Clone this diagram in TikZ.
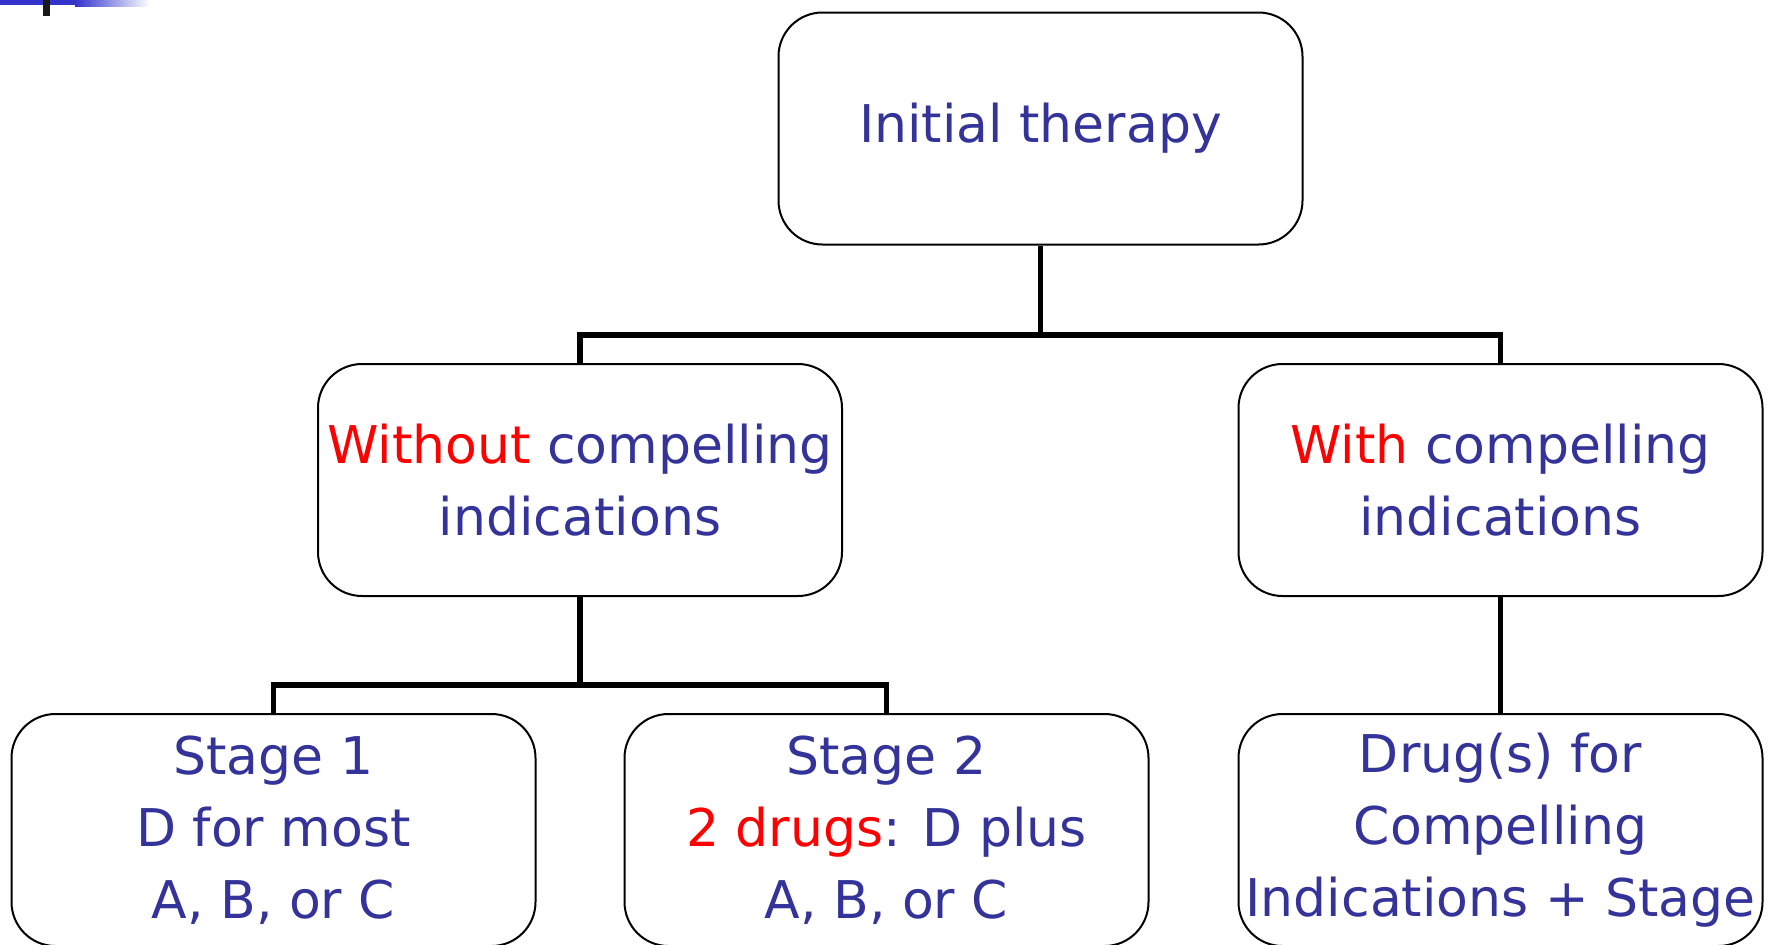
\documentclass[tikz,border=0pt]{standalone}
\usepackage{fontspec}
\setmainfont{DejaVu Sans}
\usepackage{xcolor}
\definecolor{ink}{HTML}{333399}
\definecolor{hot}{HTML}{FF0000}
\definecolor{bar}{HTML}{3333CC}
\usetikzlibrary{positioning,calc}

\begin{document}
\begin{tikzpicture}[x=0.5pt,y=-0.5pt,
  font=\fontsize{26}{36}\selectfont,
  every node/.style={align=center},
  box/.style={draw=black,line width=1pt,rounded corners=22pt,fill=white,
              minimum width=262pt,minimum height=116pt,inner sep=2pt,text=ink},
  link/.style={draw=black,line width=2.6pt},
]
\useasboundingbox (0,0) rectangle (1773,944);

% --- slide template bits, top left
\fill[bar] (0,0) rectangle (75,5);
\shade[left color=bar,right color=white] (75,0) rectangle (150,6);
\fill[black!90] (43,0) rectangle (50,16);

% --- top
\node[box] (top) at (1040.5,128.5) {Initial therapy};

% --- middle row
\node[box] (wo) at (580,480)  {{\color{hot}Without} compelling\\indications};
\node[box] (wi) at (1500.5,480) {{\color{hot}With} compelling\\indications};

% --- bottom row (runs off the page)
\node[box] (st1) at (273.5,830)  {Stage 1\\D for most\\A, B, or C};
\node[box] (st2) at (886.5,830)  {Stage 2\\{\color{hot}2 drugs}: D plus\\A, B, or C};
\node[box] (drg) at (1500.5,830) {Drug(s) for\\Compelling\\Indications + Stage};

% --- connectors
\coordinate (j1) at (1040.5,335);
\coordinate (j2) at (580,685);
\draw[link] (top.south) -- (j1);
\draw[link] (wo.north) |- (j1) -| (wi.north);
\draw[link] (wo.south) -- (j2);
\draw[link] (st1.north) |- (j2) -| (st2.north);
\draw[link] (wi.south) -- (drg.north);

\end{tikzpicture}
\end{document}
